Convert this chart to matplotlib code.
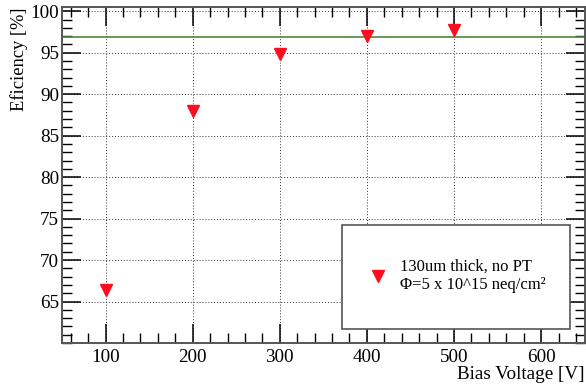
import matplotlib
matplotlib.use("Agg")
import matplotlib.pyplot as plt
from matplotlib.patches import Rectangle
from matplotlib.ticker import MultipleLocator
from matplotlib.lines import Line2D

voltage = [100, 200, 300, 400, 500]
efficiency = [66.4, 88.0, 94.8, 97.0, 97.7]
reference_eff = 96.9
legend_label = "130um thick, no PT\nΦ=5 x 10^15 neq/cm²"
xlabel = "Bias Voltage [V]"
ylabel = "Eficiency [%]"

plt.rcParams['font.family'] = ['Liberation Serif', 'DejaVu Serif']

fig = plt.figure(figsize=(5.86, 3.87), dpi=100)
ax = fig.add_axes([0.1058, 0.1137, 0.892, 0.868])

ax.set_xlim(50, 650)
ax.set_ylim(60, 100.5)

ax.axhline(reference_eff, color='#4a8a3a', lw=1.2, zorder=2)
ax.plot(voltage, efficiency, linestyle='none', marker='v', color='#ff0d1f',
        markersize=8.5, zorder=3)

ax.xaxis.set_major_locator(MultipleLocator(100))
ax.xaxis.set_minor_locator(MultipleLocator(20))
ax.yaxis.set_major_locator(MultipleLocator(5))
ax.yaxis.set_minor_locator(MultipleLocator(1))

ax.grid(True, which='major', color='#333333', linestyle=(0, (1, 2)), lw=0.7)

spine_col = '#555555'
for s in ax.spines.values():
    s.set_color(spine_col)
    s.set_linewidth(1.4)

ax.tick_params(which='both', direction='in', top=True, right=True,
               color='black', labelsize=13.8)
ax.tick_params(axis='y', pad=2)
ax.tick_params(axis='x', pad=4.5)
ax.tick_params(which='major', length=14, width=1.1)
ax.tick_params(which='minor', length=7, width=1.0)

ax.set_yticks([65, 70, 75, 80, 85, 90, 95, 100])
ax.set_xticks([100, 200, 300, 400, 500, 600])

ax.set_xlabel(xlabel, fontsize=13.8, loc='right', labelpad=0)
ax.set_ylabel(ylabel, fontsize=13.3, loc='top', labelpad=2)

# legend box
ax.add_patch(Rectangle((0.535, 0.042), 0.437, 0.309, transform=ax.transAxes,
                       facecolor='white', edgecolor='#555555', lw=1.2, zorder=4))
handle = Line2D([], [], linestyle='none', marker='v', color='#ff0d1f', markersize=8.5)
leg = ax.legend([handle], [legend_label], loc='center left',
                bbox_to_anchor=(0.56, 0.2), frameon=False,
                fontsize=12, handlelength=1.0, handletextpad=0.8,
                labelspacing=0.2)
leg.set_zorder(5)

fig.savefig("out.png", dpi=100)
